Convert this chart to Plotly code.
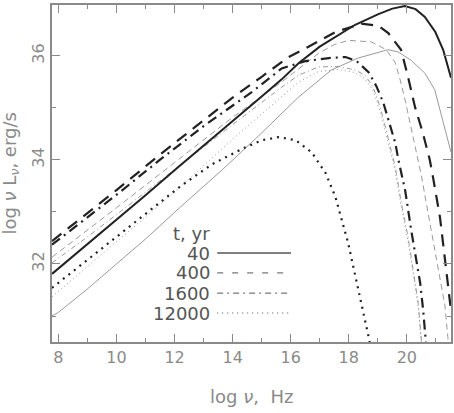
import plotly.graph_objects as go

# ---- data (log nu [Hz], log nu L_nu [erg/s]) ----
x_40_a = [7.78, 9, 10, 11, 12.1, 13, 14, 15, 15.69, 16.27, 17, 18.22, 19.0, 19.5, 19.93, 20.3, 20.62, 20.98, 21.25, 21.52]
y_40_a = [31.81, 32.38, 32.85, 33.32, 33.85, 34.27, 34.74, 35.22, 35.55, 35.86, 36.18, 36.60, 36.80, 36.91, 36.96, 36.90, 36.75, 36.46, 36.12, 35.58]

x_400_a = [7.78, 9, 10, 11.49, 13, 14, 15, 15.93, 16.55, 17.54, 18.43, 19.02, 19.36, 19.8, 20.04, 20.28, 20.55, 20.79, 20.9, 21.14, 21.31, 21.41, 21.52]
y_400_a = [32.44, 32.98, 33.42, 34.10, 34.77, 35.20, 35.60, 35.98, 36.16, 36.46, 36.62, 36.58, 36.44, 36.12, 35.60, 35.02, 34.52, 34.0, 33.67, 32.9, 32.1, 31.6, 31.1]

x_1600_a = [7.78, 9, 10, 11.49, 13, 14.67, 15.69, 16.5, 17.31, 17.89, 18.27, 18.68, 18.95, 19.19, 19.36, 19.6, 19.71, 19.94, 20.15, 20.32, 20.46, 20.56, 20.63, 20.7]
y_1600_a = [32.37, 32.90, 33.33, 34.0, 34.65, 35.31, 35.76, 35.90, 35.96, 35.98, 35.90, 35.69, 35.42, 35.10, 34.77, 34.33, 34.0, 33.42, 32.65, 32.08, 31.63, 31.12, 30.60, 30.2]

x_12000_a = [7.78, 9, 10, 11, 12.17, 13.3, 14.46, 15.01, 15.59, 16.17, 16.72, 17.2, 17.54, 17.98, 18.32, 18.67, 18.9]
y_12000_a = [31.54, 32.08, 32.52, 32.97, 33.48, 33.92, 34.25, 34.38, 34.44, 34.38, 34.15, 33.75, 33.29, 32.40, 31.56, 30.63, 30.0]

x_40_b = [7.78, 8.0, 9, 10, 11, 12.17, 13.64, 15, 16.27, 17.4, 18.32, 19.35, 19.69, 20.14, 20.62, 20.96, 21.17, 21.41, 21.52]
y_40_b = [31.0, 31.07, 31.52, 32.0, 32.48, 33.08, 33.81, 34.52, 35.21, 35.73, 35.96, 36.12, 36.08, 35.92, 35.67, 35.35, 34.90, 34.38, 34.15]

x_400_b = [7.78, 9, 10, 12, 14, 15.69, 16.27, 16.96, 17.5, 18.0, 18.78, 19.29, 19.6, 19.77, 19.94, 20.15, 20.32, 20.5, 20.66, 20.79, 20.97, 21.14, 21.31, 21.41, 21.52]
y_400_b = [32.13, 32.65, 33.08, 33.95, 34.82, 35.50, 35.75, 36.05, 36.22, 36.30, 36.27, 36.12, 35.87, 35.54, 35.15, 34.63, 34.19, 33.7, 33.2, 32.8, 32.3, 31.8, 31.2, 30.6, 30.0]

x_1600_b = [7.78, 9, 10, 12, 14, 15.69, 16.27, 16.96, 17.64, 18.22, 18.56, 18.84, 19.08, 19.26, 19.43, 19.6, 19.81, 20.04, 20.22, 20.39, 20.49, 20.6]
y_1600_b = [32.02, 32.52, 32.95, 33.82, 34.68, 35.40, 35.63, 35.79, 35.80, 35.73, 35.63, 35.40, 35.02, 34.63, 34.25, 33.87, 33.17, 32.52, 31.88, 31.25, 30.60, 30.0]

x_12000_b = [7.78, 9, 10, 12, 14, 15.69, 16.27, 16.96, 17.64, 18.22, 18.56, 18.84, 19.08, 19.26, 19.43, 19.6, 19.81, 20.04, 20.22, 20.39, 20.49, 20.6]
y_12000_b = [31.37, 31.95, 32.42, 33.38, 34.40, 35.22, 35.50, 35.70, 35.74, 35.68, 35.56, 35.33, 34.94, 34.55, 34.17, 33.79, 33.09, 32.44, 31.80, 31.17, 30.52, 29.95]

legend_title = "t, yr"
legend_labels = ["40", "400", "1600", "12000"]

FONT = "DejaVu Sans"
AX = "#8a8a8a"
DARK = "#222222"
GRAY = "#9a9a9a"

fig = go.Figure()

def add(x, y, color, width, dash):
    fig.add_trace(go.Scatter(x=x, y=y, mode="lines", showlegend=False, hoverinfo="skip",
                             line=dict(color=color, width=width, dash=dash)))

# thin gray set
add(x_40_b, y_40_b, GRAY, 1, "solid")
add(x_400_b, y_400_b, GRAY, 1, "6px,4px")
add(x_1600_b, y_1600_b, GRAY, 1, "5px,3px,1px,3px")
add(x_12000_b, y_12000_b, GRAY, 1, "1px,3px")
# thick black set
add(x_40_a, y_40_a, DARK, 2, "solid")
add(x_400_a, y_400_a, DARK, 2.2, "12px,8px")
add(x_1600_a, y_1600_a, DARK, 2.2, "10px,5px,2px,5px")
add(x_12000_a, y_12000_a, DARK, 2.2, "2px,5px")

axis_common = dict(showline=True, linecolor=AX, linewidth=1.5, mirror="ticks",
                   ticks="inside", ticklen=8, tickwidth=1, tickcolor=AX,
                   showgrid=False, zeroline=False,
                   tickfont=dict(family=FONT, size=16, color=AX),
                   minor=dict(ticks="inside", ticklen=4, dtick=1, tickcolor=AX, tickwidth=1, showgrid=False))

fig.update_xaxes(range=[7.78, 21.52], tick0=8, dtick=2, **axis_common)
fig.update_yaxes(range=[30.5, 36.98], tick0=32, dtick=2, tickangle=-90, **axis_common)

# legend block (text on left, line sample on right)
rows_y = [0.264, 0.205, 0.145, 0.086]
dashes = ["solid", "6px,9px", "6px,4px,2px,4px", "1px,4px"]
widths = [1.5, 1, 1, 1]
anns = [dict(x=0.401, y=0.323, xref="paper", yref="paper", text=legend_title, showarrow=False,
             xanchor="right", yanchor="middle", font=dict(family=FONT, size=18, color="#555"))]
shapes = []
for lab, yy, d, w in zip(legend_labels, rows_y, dashes, widths):
    anns.append(dict(x=0.401, y=yy, xref="paper", yref="paper", text=lab, showarrow=False,
                     xanchor="right", yanchor="middle", font=dict(family=FONT, size=18, color="#555")))
    shapes.append(dict(type="line", xref="paper", yref="paper", x0=0.414, x1=0.599, y0=yy, y1=yy,
                       line=dict(color="#555", width=w, dash=d)))

anns.append(dict(x=0.5, y=-0.163, xref="paper", yref="paper", text="log <i>ν</i>,  Hz", showarrow=False,
                 xanchor="center", yanchor="middle", font=dict(family=FONT, size=18, color=AX)))
anns.append(dict(x=-0.105, y=0.5, xref="paper", yref="paper", text="log <i>ν</i> L<sub><i>ν</i></sub>, erg/s",
                 showarrow=False, textangle=-90, xanchor="center", yanchor="middle",
                 font=dict(family=FONT, size=18, color=AX)))

fig.update_layout(width=454, height=413, margin=dict(l=52, r=1, t=5, b=71),
                  paper_bgcolor="white", plot_bgcolor="white",
                  annotations=anns, shapes=shapes)

fig.write_html("out.html")
